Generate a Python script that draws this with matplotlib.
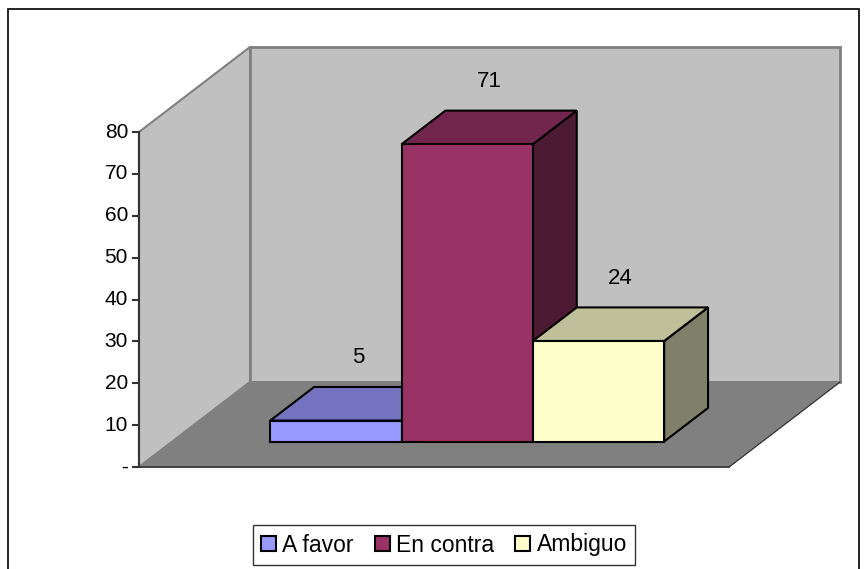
import matplotlib
matplotlib.use("Agg")
import matplotlib.pyplot as plt
from matplotlib.patches import Polygon, Patch, Rectangle

plt.rcParams["font.family"] = ["Liberation Sans", "DejaVu Sans"]

# --- data ---
categories = ["A favor", "En contra", "Ambiguo"]
values = [5, 71, 24]
yticks = [0, 10, 20, 30, 40, 50, 60, 70, 80]
ytick_labels = ["-", "10", "20", "30", "40", "50", "60", "70", "80"]

front_colors = ["#9999FF", "#993366", "#FFFFCC"]
top_colors = ["#7373BF", "#73264D", "#BFBF99"]
side_colors = ["#4D4D80", "#4D1A33", "#80806A"]

# --- geometry (x in px, y in value units) ---
W, H = 867, 569
PX = 4.1875                # px per value unit
Y0 = 467                   # pixel row of value 0 at the front plane
X0, X1 = 139, 729          # front edge of floor
DEPTH_DX, DEPTH_DY = 111, 85 / PX
YMAX = 80
BAR_D0, BAR_D1 = 0.30, 0.695
BAR_X0, BAR_W = 237, 131.3


def off(x, y, d):
    return (x + d * DEPTH_DX, y + d * DEPTH_DY)


fig = plt.figure(figsize=(W / 100, H / 100), dpi=100)
ax = fig.add_axes([0, 0, 1, 1])
ax.set_xlim(0, W)
ax.set_ylim((Y0 - H) / PX, Y0 / PX)
ax.axis("off")

# outer border
ax.add_patch(Rectangle((8, (Y0 - 575) / PX), 851, 566 / PX, fill=False,
                       edgecolor="black", lw=1.2, zorder=0))

# walls and floor
back = [off(X0, 0, 1), off(X1, 0, 1), off(X1, YMAX, 1), off(X0, YMAX, 1)]
ax.add_patch(Polygon(back, closed=True, facecolor="#C0C0C0", edgecolor="#808080", lw=2, zorder=1))
side = [off(X0, 0, 0), off(X0, 0, 1), off(X0, YMAX, 1), off(X0, YMAX, 0)]
ax.add_patch(Polygon(side, closed=True, facecolor="#C0C0C0", edgecolor="#808080", lw=1.5, zorder=1))
floor = [off(X0, 0, 0), off(X1, 0, 0), off(X1, 0, 1), off(X0, 0, 1)]
ax.add_patch(Polygon(floor, closed=True, facecolor="#808080", edgecolor="#808080", lw=1, zorder=2))
ax.plot([X0, X1], [0, 0], color="#333333", lw=1.2, zorder=3)
ax.plot([off(X1, 0, 0)[0], off(X1, 0, 1)[0]], [0, DEPTH_DY], color="#333333", lw=0.8, zorder=3)

# y axis
ax.plot([X0, X0], [0, YMAX], color="#333333", lw=1.5, zorder=4)
for t, lab in zip(yticks, ytick_labels):
    ax.plot([X0 - 6, X0], [t, t], color="#333333", lw=1.5, zorder=4)
    ax.text(X0 - 11, t, lab, ha="right", va="center", fontsize=15, color="black")

# bars, left to right so the next one covers the previous side face
for i, (v, fc, tc, sc) in enumerate(zip(values, front_colors, top_colors, side_colors)):
    xl = BAR_X0 + i * BAR_W
    xr = xl + BAR_W
    kw = dict(closed=True, edgecolor="black", lw=1.5, joinstyle="miter", zorder=5 + i)
    right = [off(xr, 0, BAR_D0), off(xr, 0, BAR_D1), off(xr, v, BAR_D1), off(xr, v, BAR_D0)]
    ax.add_patch(Polygon(right, facecolor=sc, **kw))
    top = [off(xl, v, BAR_D0), off(xr, v, BAR_D0), off(xr, v, BAR_D1), off(xl, v, BAR_D1)]
    ax.add_patch(Polygon(top, facecolor=tc, **kw))
    front = [off(xl, 0, BAR_D0), off(xr, 0, BAR_D0), off(xr, v, BAR_D0), off(xl, v, BAR_D0)]
    ax.add_patch(Polygon(front, facecolor=fc, **kw))
    lx = off((xl + xr) / 2, v, (BAR_D0 + BAR_D1) / 2)[0]
    ly = off(xl, v, BAR_D0)[1] + 15
    ax.text(lx, ly, str(v), ha="center", va="center", fontsize=16, zorder=10)

handles = [Patch(facecolor=c, edgecolor="black", lw=1.5) for c in front_colors]
leg = ax.legend(handles, categories, loc="center", bbox_to_anchor=(444 / W, 1 - 545 / H),
                ncol=3, fontsize=16.5, frameon=True, fancybox=False, edgecolor="black",
                handlelength=0.65, handleheight=0.65, handletextpad=0.3, columnspacing=0.9,
                borderpad=0.35, borderaxespad=0)
leg.get_frame().set_linewidth(1.0)

fig.savefig("out.png", dpi=100)
